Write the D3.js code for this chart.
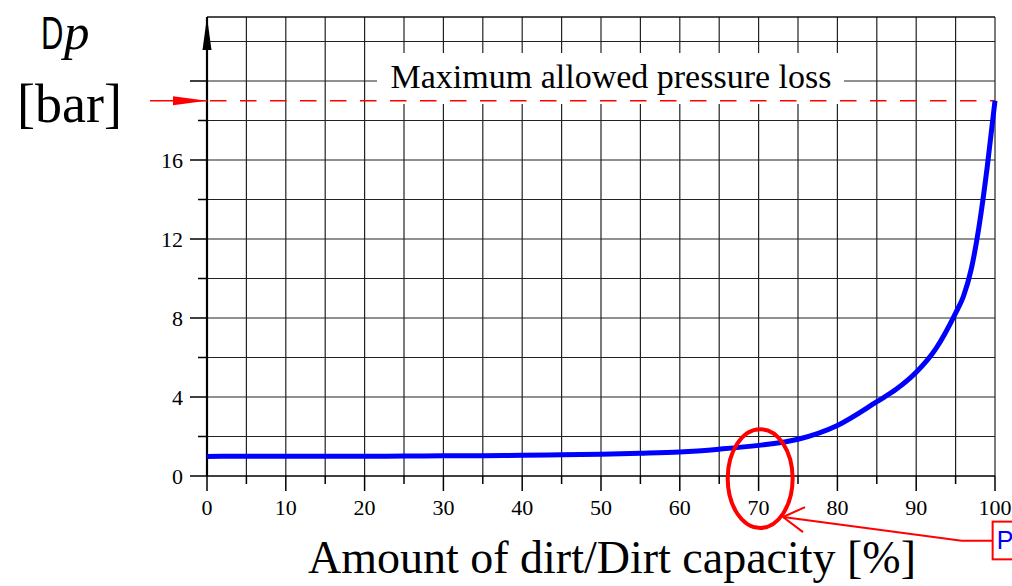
<!DOCTYPE html>
<html><head><meta charset="utf-8">
<script src="https://cdn.jsdelivr.net/npm/d3@7"></script>
<style>body{margin:0;background:#fff}svg{display:block}</style>
</head><body>
<svg id="c" width="1012" height="586"></svg>
<script>
// data
const dirtPct = [0,5,10,15,20,25,30,35,40,45,50,55,60,65,70,75,80,85,87.5,90,92.5,95,96,97,98,99,100];
const pressureBar = [0.99,1.0,1.0,1.0,1.0,1.01,1.02,1.03,1.05,1.07,1.1,1.15,1.22,1.36,1.55,1.86,2.56,3.76,4.4,5.25,6.45,8.25,9.1,10.5,12.7,15.6,19.0];
const xTickLabels = [0,10,20,30,40,50,60,70,80,90,100];
const yTickLabels = [0,4,8,12,16];
const maxPressure = 19;
const maxLabel = "Maximum allowed pressure loss";
const xTitle = "Amount of dirt/Dirt capacity [%]";

const svg = d3.select("#c");
const x = d3.scaleLinear().domain([0,100]).range([207,995]);
const y = d3.scaleLinear().domain([0,20]).range([476,81]);
const yTop = 23.24;
const serif = "Liberation Serif, Times New Roman, serif";

const g = svg.append("g");
// vertical grid
g.selectAll(".vg").data(d3.range(5,101,5)).join("line")
  .attr("x1",d=>x(d)).attr("x2",d=>x(d)).attr("y1",y(0)).attr("y2",y(yTop))
  .attr("stroke","#222").attr("stroke-width",1.2);
// horizontal grid
g.selectAll(".hg").data(d3.range(2,23,2)).join("line")
  .attr("x1",x(0)).attr("x2",x(100)).attr("y1",d=>y(d)).attr("y2",d=>y(d))
  .attr("stroke","#222").attr("stroke-width",1.2);
// top border
g.append("line").attr("x1",x(0)).attr("x2",x(100)).attr("y1",y(yTop)).attr("y2",y(yTop))
  .attr("stroke","#111").attr("stroke-width",1.5);

// y ticks
g.selectAll(".yt").data(d3.range(0,21,2)).join("line")
  .attr("x1",d=>d%4===0?190:198).attr("x2",x(0)).attr("y1",d=>y(d)).attr("y2",d=>y(d))
  .attr("stroke","#000").attr("stroke-width",1.5);
// x ticks
g.selectAll(".xt").data(d3.range(0,101,5)).join("line")
  .attr("x1",d=>x(d)).attr("x2",d=>x(d)).attr("y1",y(0)).attr("y2",d=>d%10===0?491:484)
  .attr("stroke","#000").attr("stroke-width",1.5);
// x axis
g.append("line").attr("x1",x(0)).attr("x2",x(100)).attr("y1",y(0)).attr("y2",y(0))
  .attr("stroke","#000").attr("stroke-width",1.5);
// y axis
g.append("line").attr("x1",x(0)).attr("x2",x(0)).attr("y1",y(0)).attr("y2",y(yTop))
  .attr("stroke","#000").attr("stroke-width",2.2);
g.append("path").attr("d",`M${x(0)},${y(yTop)} L${x(0)-4.5},${y(yTop)+33} L${x(0)+4.5},${y(yTop)+33}Z`).attr("fill","#000");

// labels
g.selectAll(".xl").data(xTickLabels).join("text")
  .attr("x",d=>x(d)).attr("y",515).attr("text-anchor","middle")
  .attr("font-family",serif).attr("font-size",22).text(d=>d);
g.selectAll(".yl").data(yTickLabels).join("text")
  .attr("x",183).attr("y",d=>y(d)+8).attr("text-anchor","end")
  .attr("font-family",serif).attr("font-size",22).text(d=>d);

// white box behind max label
g.append("rect").attr("x",377).attr("y",53).attr("width",467).attr("height",51).attr("fill","#fff");
g.append("text").attr("x",611).attr("y",88).attr("text-anchor","middle")
  .attr("font-family",serif).attr("font-size",34).text(maxLabel);

// max pressure dashed line
g.append("line").attr("x1",x(0)).attr("x2",x(100)).attr("y1",y(maxPressure)).attr("y2",y(maxPressure))
  .attr("stroke","#ff0000").attr("stroke-width",1.6).attr("stroke-dasharray","16.5,13.5").attr("stroke-dashoffset",-3);
g.append("line").attr("x1",150).attr("x2",x(0)).attr("y1",y(maxPressure)).attr("y2",y(maxPressure))
  .attr("stroke","#ff0000").attr("stroke-width",1.6);
g.append("path").attr("d",`M${x(0)},${y(maxPressure)} L${x(0)-34},${y(maxPressure)-4.5} L${x(0)-34},${y(maxPressure)+4.5}Z`).attr("fill","#ff0000");

// curve
const pts = dirtPct.map((d,i)=>[d,pressureBar[i]]);
g.append("path").datum(pts)
  .attr("d",d3.line().x(d=>x(d[0])).y(d=>y(d[1])).curve(d3.curveMonotoneX))
  .attr("fill","none").attr("stroke","#0000ff").attr("stroke-width",5).attr("stroke-linejoin","round");

// ellipse annotation
const ell = [70.2,-0.13,4.12,2.5];
g.append("ellipse").attr("cx",x(ell[0])).attr("cy",y(ell[1]))
  .attr("rx",x(ell[0]+ell[2])-x(ell[0])).attr("ry",y(0)-y(ell[3]))
  .attr("fill","none").attr("stroke","#ff0000").attr("stroke-width",4);

// pointer
const tip = [73.1,-2.08], bend = [95.77,-3.28], box = [99.7,-2.31,-4.22];
g.append("polyline").attr("points",`${x(tip[0])},${y(tip[1])} ${x(bend[0])},${y(bend[1])} ${x(box[0])},${y(bend[1])}`)
  .attr("fill","none").attr("stroke","#ff0000").attr("stroke-width",2);
g.append("polyline").attr("points",`${x(tip[0])+22},${y(tip[1])-10} ${x(tip[0])},${y(tip[1])} ${x(tip[0])+20},${y(tip[1])+15}`)
  .attr("fill","none").attr("stroke","#ff0000").attr("stroke-width",2);
g.append("rect").attr("x",x(box[0])).attr("y",y(box[1])).attr("width",40).attr("height",y(box[2])-y(box[1]))
  .attr("fill","#fff").attr("stroke","#ff0000").attr("stroke-width",2);
g.append("text").attr("x",x(box[0])+4).attr("y",y(box[2])-10)
  .attr("font-family","Liberation Sans, Arial, sans-serif").attr("font-size",25).attr("fill","#0000ff").text("P");

// y title
g.append("text").attr("transform","translate(41,49) scale(0.66,1)")
  .attr("font-family","Liberation Sans, Arial, sans-serif").attr("font-size",47).text("D");
g.append("text").attr("x",64).attr("y",49)
  .attr("font-family",serif).attr("font-style","italic").attr("font-size",51).text("p");
g.append("text").attr("x",17).attr("y",122)
  .attr("font-family",serif).attr("font-size",54).text("[bar]");

// x title
g.append("text").attr("x",612).attr("y",573).attr("text-anchor","middle")
  .attr("font-family",serif).attr("font-size",46).text(xTitle);
</script>
</body></html>
